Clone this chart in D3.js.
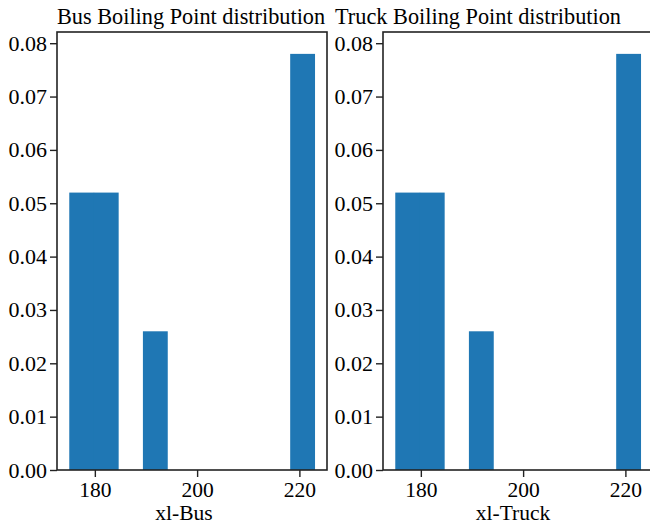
<!DOCTYPE html>
<html>
<head>
<meta charset="utf-8">
<script src="https://cdn.jsdelivr.net/npm/d3@7"></script>
<style>
  body { margin: 0; background: #fff; }
  svg text { font-family: "Liberation Serif", "DejaVu Serif", serif; fill: #000; }
</style>
</head>
<body>
<div id="chart"></div>
<script>
// histogram bins (left edges) and densities
const binEdges = [175, 179.8, 184.6, 189.4, 194.2, 199.0, 203.8, 208.6, 213.4, 218.2, 223.0];
const busDensity = [0.052, 0.052, 0, 0.026, 0, 0, 0, 0, 0, 0.078];
const truckDensity = [0.052, 0.052, 0, 0.026, 0, 0, 0, 0, 0, 0.078];
const xTicks = [180, 200, 220];
const yTicks = [0, 0.01, 0.02, 0.03, 0.04, 0.05, 0.06, 0.07, 0.08];

const panels = [
  { title: "Bus Boiling Point distribution", label: "xl-Bus", values: busDensity, left: 57, titleX: 134, labelX: 127 },
  { title: "Truck Boiling Point distribution", label: "xl-Truck", values: truckDensity, left: 383, titleX: 95, labelX: 130 }
];

const width = 650, height = 527;
const plotTop = 32, plotBottom = 470, plotW = 270;

const svg = d3.select("#chart").append("svg")
  .attr("width", width).attr("height", height);

const x = d3.scaleLinear().domain([172.6, 225.4]).range([0, plotW]);
const y = d3.scaleLinear().domain([0, 0.0821]).range([plotBottom, plotTop]);

panels.forEach(p => {
  const g = svg.append("g").attr("transform", `translate(${p.left},0)`);

  const bins = p.values.map((v, i) => ({ x0: binEdges[i], x1: binEdges[i + 1], v }));
  g.selectAll("rect.bar")
    .data(bins.filter(d => d.v > 0))
    .enter().append("rect")
    .attr("class", "bar")
    .attr("x", d => x(d.x0))
    .attr("width", d => x(d.x1) - x(d.x0) + 0.3)
    .attr("y", d => y(d.v))
    .attr("height", d => y(0) - y(d.v))
    .attr("fill", "#1f77b4");

  const yAxis = g.append("g")
    .call(d3.axisLeft(y).tickValues(yTicks).tickFormat(d3.format(".2f")).tickSize(7).tickPadding(3));
  const xAxis = g.append("g")
    .attr("transform", `translate(0,${plotBottom})`)
    .call(d3.axisBottom(x).tickValues(xTicks).tickFormat(d3.format("d")).tickSize(7).tickPadding(5));

  [yAxis, xAxis].forEach(a => {
    a.select(".domain").remove();
    a.selectAll("line").attr("stroke", "#222").attr("stroke-width", 1.4);
    a.selectAll("text").style("font-family", "Liberation Serif, serif").attr("fill", "#000");
  });
  yAxis.selectAll("text").style("font-size", "22px");
  xAxis.selectAll("text").style("font-size", "21.5px");

  // frame
  g.append("rect")
    .attr("x", 0).attr("y", plotTop)
    .attr("width", plotW).attr("height", plotBottom - plotTop)
    .attr("fill", "none").attr("stroke", "#222").attr("stroke-width", 1.6);

  g.append("text")
    .attr("x", p.titleX).attr("y", 24)
    .attr("text-anchor", "middle")
    .style("font-size", "22.3px")
    .text(p.title);

  g.append("text")
    .attr("x", p.labelX).attr("y", 520)
    .attr("text-anchor", "middle")
    .style("font-size", "21.5px")
    .text(p.label);
});
</script>
</body>
</html>
